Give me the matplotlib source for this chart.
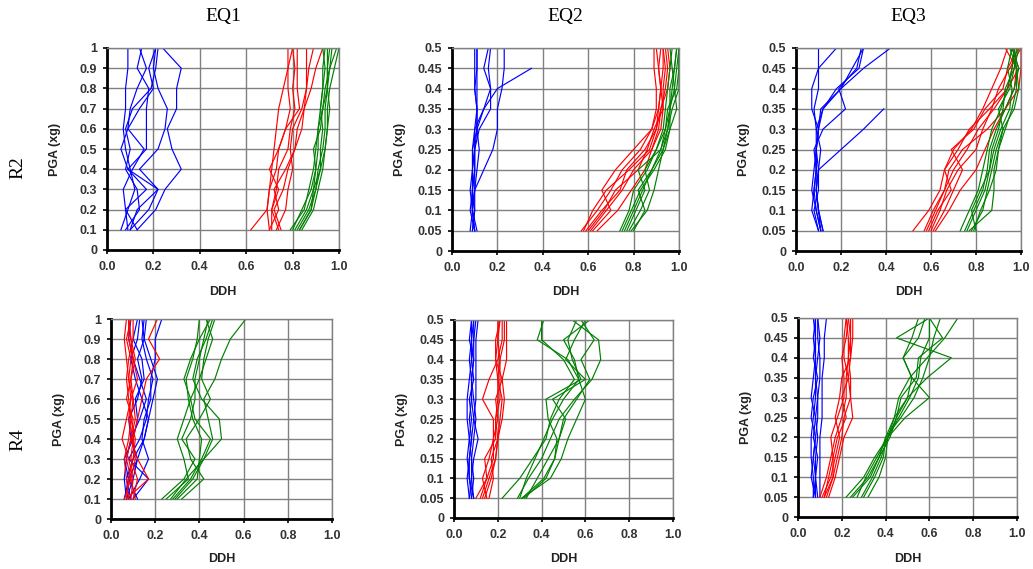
import numpy as np
import matplotlib
matplotlib.use("Agg")
import matplotlib.pyplot as plt

nan = np.nan

# PGA levels (xg) at which DDH was recorded
pga_eq1 = [0.1, 0.2, 0.3, 0.4, 0.5, 0.6, 0.7, 0.8, 0.9, 1.0]
pga_eq23 = [0.05, 0.1, 0.15, 0.2, 0.25, 0.3, 0.35, 0.4, 0.45, 0.5]

# ---- R2 / EQ1 ----
r2_eq1_blue = [
    [0.06, 0.09, 0.12, 0.10, 0.08, 0.07, 0.08, 0.08, 0.09, 0.09],
    [0.13, 0.08, 0.07, 0.11, 0.16, 0.09, 0.10, 0.13, 0.17, 0.14],
    [0.10, 0.13, 0.22, 0.09, 0.17, 0.17, 0.17, 0.18, 0.13, 0.15],
    [0.10, 0.18, 0.22, 0.14, 0.22, 0.25, 0.26, 0.22, 0.20, 0.21],
    [0.13, 0.21, 0.25, 0.32, 0.28, 0.26, 0.30, 0.30, 0.32, 0.24],
    [0.08, 0.14, 0.13, 0.08, 0.10, 0.08, 0.11, 0.19, 0.21, 0.22],
    [0.09, 0.08, 0.17, 0.09, 0.06, 0.09, 0.14, 0.20, 0.18, 0.21],
]
r2_eq1_red = [
    [0.62, 0.69, 0.70, 0.73, 0.74, 0.77, 0.79, 0.78, 0.78, 0.78],
    [0.70, 0.69, 0.70, 0.71, 0.72, 0.73, 0.74, 0.76, 0.78, 0.80],
    [0.71, 0.71, 0.74, 0.70, 0.74, 0.77, 0.83, 0.82, 0.82, 0.82],
    [0.73, 0.77, 0.78, 0.80, 0.79, 0.80, 0.84, 0.86, 0.86, 0.86],
    [0.75, 0.72, 0.76, 0.78, 0.81, 0.82, 0.85, 0.88, 0.90, 0.93],
    [0.70, 0.74, 0.72, 0.77, 0.81, 0.84, 0.85, 0.86, 0.87, 0.89],
    [0.74, 0.71, 0.73, 0.74, 0.78, 0.79, 0.81, 0.80, 0.81, 0.80],
]
r2_eq1_green = [
    [0.79, 0.85, 0.87, 0.89, 0.90, 0.91, 0.92, 0.93, 0.93, 0.94],
    [0.81, 0.86, 0.89, 0.90, 0.89, 0.92, 0.93, 0.95, 0.95, 0.96],
    [0.83, 0.88, 0.90, 0.91, 0.93, 0.94, 0.94, 0.95, 0.96, 0.99],
    [0.84, 0.89, 0.91, 0.93, 0.94, 0.95, 0.95, 0.96, 0.98, 1.00],
    [0.82, 0.87, 0.90, 0.92, 0.92, 0.93, 0.92, 0.93, 0.94, 0.93],
    [0.80, 0.84, 0.88, 0.90, 0.91, 0.91, 0.93, 0.94, 0.96, 0.97],
    [0.83, 0.88, 0.89, 0.92, 0.94, 0.95, 0.96, 0.95, 0.95, 0.95],
]

# ---- R2 / EQ2 ----
r2_eq2_blue = [
    [0.08, 0.09, 0.09, 0.10, 0.10, 0.11, 0.11, 0.11, 0.11, 0.11],
    [0.10, 0.09, 0.10, 0.11, 0.12, 0.11, 0.11, 0.10, 0.11, 0.11],
    [0.11, 0.09, 0.10, 0.14, 0.18, 0.20, 0.20, 0.22, 0.23, 0.23],
    [0.09, 0.10, 0.09, 0.10, 0.09, 0.11, 0.14, 0.17, 0.16, 0.17],
    [0.10, 0.09, 0.08, 0.09, 0.10, 0.10, 0.14, 0.20, 0.35, nan],
    [0.09, 0.10, 0.10, 0.10, 0.10, 0.12, 0.17, 0.17, 0.14, 0.16],
    [0.10, 0.08, 0.09, 0.09, 0.09, 0.10, 0.11, 0.10, 0.10, 0.10],
]
r2_eq2_red = [
    [0.57, 0.64, 0.70, 0.75, 0.83, 0.88, 0.90, 0.90, 0.89, 0.89],
    [0.58, 0.62, 0.68, 0.78, 0.87, 0.90, 0.91, 0.92, 0.91, 0.90],
    [0.60, 0.67, 0.72, 0.82, 0.86, 0.89, 0.93, 0.93, 0.94, 0.93],
    [0.61, 0.68, 0.75, 0.80, 0.88, 0.91, 0.92, 0.94, 0.95, 0.94],
    [0.62, 0.70, 0.66, 0.72, 0.80, 0.88, 0.91, 0.92, 0.93, 0.93],
    [0.64, 0.73, 0.79, 0.85, 0.88, 0.92, 0.93, 0.92, 0.91, 0.92],
    [0.59, 0.66, 0.74, 0.77, 0.85, 0.90, 0.92, 0.95, 0.96, 0.95],
]
r2_eq2_green = [
    [0.74, 0.78, 0.80, 0.86, 0.90, 0.93, 0.94, 0.95, 0.96, 0.97],
    [0.76, 0.80, 0.84, 0.88, 0.92, 0.95, 0.96, 0.98, 0.99, 1.00],
    [0.78, 0.83, 0.87, 0.85, 0.90, 0.94, 0.96, 0.97, 0.98, 0.99],
    [0.79, 0.86, 0.89, 0.91, 0.93, 0.95, 0.97, 1.00, 1.00, 1.00],
    [0.80, 0.85, 0.82, 0.88, 0.93, 0.96, 0.99, 0.98, 0.97, 0.96],
    [0.77, 0.81, 0.85, 0.82, 0.92, 0.94, 0.95, 0.99, 1.00, 1.00],
    [0.75, 0.79, 0.83, 0.89, 0.94, 0.96, 0.96, 0.96, 0.98, 0.99],
]

# ---- R2 / EQ3 ----
r2_eq3_blue = [
    [0.10, 0.07, 0.08, 0.09, 0.09, 0.09, 0.08, 0.10, 0.10, 0.10],
    [0.11, 0.09, 0.07, 0.08, 0.09, 0.10, 0.07, 0.07, 0.10, 0.18],
    [0.12, 0.10, 0.09, 0.10, 0.11, 0.09, 0.12, 0.20, 0.25, 0.30],
    [0.11, 0.09, 0.08, 0.09, 0.08, 0.12, 0.22, 0.19, 0.27, 0.29],
    [0.10, 0.08, 0.10, 0.10, 0.09, 0.10, 0.12, 0.18, 0.28, 0.30],
    [0.11, 0.10, 0.09, 0.10, 0.20, 0.30, 0.39, nan, nan, nan],
    [0.12, 0.10, 0.09, 0.09, 0.09, 0.10, 0.11, 0.20, 0.30, 0.42],
]
r2_eq3_red = [
    [0.52, 0.59, 0.64, 0.66, 0.70, 0.78, 0.83, 0.87, 0.91, 0.94],
    [0.58, 0.62, 0.66, 0.70, 0.76, 0.81, 0.88, 0.94, 0.96, 0.97],
    [0.60, 0.64, 0.67, 0.72, 0.80, 0.83, 0.87, 0.90, 0.95, 1.00],
    [0.61, 0.66, 0.70, 0.74, 0.69, 0.79, 0.84, 0.92, 0.94, 0.99],
    [0.57, 0.61, 0.66, 0.68, 0.74, 0.85, 0.93, 0.97, 0.98, 0.93],
    [0.62, 0.68, 0.73, 0.80, 0.84, 0.88, 0.93, 0.99, 1.00, 1.00],
    [0.59, 0.63, 0.69, 0.66, 0.72, 0.77, 0.86, 0.94, 0.99, 0.96],
]
r2_eq3_green = [
    [0.73, 0.77, 0.81, 0.83, 0.85, 0.87, 0.91, 0.94, 0.96, 0.97],
    [0.76, 0.80, 0.84, 0.86, 0.87, 0.90, 0.92, 0.93, 0.97, 0.98],
    [0.78, 0.83, 0.85, 0.87, 0.89, 0.92, 0.97, 0.99, 0.98, 0.95],
    [0.80, 0.78, 0.82, 0.86, 0.88, 0.91, 0.95, 0.96, 0.94, 0.96],
    [0.77, 0.87, 0.88, 0.88, 0.90, 0.93, 0.96, 0.98, 0.98, 0.97],
    [0.75, 0.79, 0.83, 0.85, 0.86, 0.89, 0.93, 0.97, 0.99, 0.96],
    [0.79, 0.82, 0.86, 0.89, 0.90, 0.92, 0.90, 0.95, 0.97, 0.99],
]

# ---- R4 / EQ1 ----
r4_eq1_blue = [
    [0.07, 0.06, 0.07, 0.09, 0.13, 0.16, 0.13, 0.10, 0.08, 0.09],
    [0.06, 0.08, 0.12, 0.15, 0.17, 0.14, 0.11, 0.09, 0.12, 0.13],
    [0.10, 0.17, 0.08, 0.13, 0.16, 0.17, 0.19, 0.16, 0.14, 0.15],
    [0.12, 0.08, 0.06, 0.10, 0.12, 0.11, 0.15, 0.14, 0.10, 0.12],
    [0.08, 0.13, 0.17, 0.14, 0.15, 0.18, 0.18, 0.20, 0.20, 0.23],
    [0.07, 0.10, 0.12, 0.09, 0.08, 0.12, 0.14, 0.12, 0.15, 0.14],
    [0.09, 0.07, 0.10, 0.15, 0.17, 0.19, 0.21, 0.18, 0.15, 0.16],
]
r4_eq1_red = [
    [0.06, 0.09, 0.11, 0.10, 0.08, 0.09, 0.08, 0.07, 0.06, 0.07],
    [0.07, 0.17, 0.12, 0.09, 0.10, 0.07, 0.09, 0.10, 0.08, 0.08],
    [0.08, 0.07, 0.06, 0.08, 0.09, 0.10, 0.08, 0.09, 0.07, 0.09],
    [0.09, 0.10, 0.08, 0.05, 0.07, 0.09, 0.12, 0.10, 0.09, 0.08],
    [0.10, 0.12, 0.09, 0.10, 0.12, 0.14, 0.16, 0.22, 0.17, 0.21],
    [0.07, 0.08, 0.10, 0.11, 0.09, 0.08, 0.07, 0.08, 0.10, 0.10],
    [0.11, 0.09, 0.07, 0.09, 0.11, 0.10, 0.09, 0.11, 0.09, 0.08],
]
r4_eq1_green = [
    [0.23, 0.33, 0.38, 0.32, 0.36, 0.38, 0.38, 0.40, 0.42, 0.44],
    [0.28, 0.36, 0.41, 0.45, 0.38, 0.36, 0.33, 0.36, 0.40, 0.45],
    [0.29, 0.37, 0.42, 0.50, 0.49, 0.41, 0.37, 0.39, 0.43, 0.46],
    [0.30, 0.39, 0.40, 0.41, 0.37, 0.35, 0.34, 0.37, 0.39, 0.40],
    [0.32, 0.42, 0.36, 0.34, 0.40, 0.45, 0.41, 0.42, 0.44, 0.47],
    [0.27, 0.34, 0.42, 0.46, 0.44, 0.42, 0.47, 0.50, 0.54, 0.61],
    [0.25, 0.35, 0.33, 0.30, 0.33, 0.36, 0.40, 0.43, 0.46, 0.43],
]

# ---- R4 / EQ2 ----
r4_eq2_blue = [
    [0.07, 0.06, 0.07, 0.08, 0.07, 0.08, 0.08, 0.07, 0.08, 0.09],
    [0.08, 0.07, 0.06, 0.07, 0.08, 0.07, 0.09, 0.08, 0.08, 0.08],
    [0.09, 0.08, 0.08, 0.09, 0.10, 0.09, 0.08, 0.09, 0.09, 0.10],
    [0.08, 0.09, 0.08, 0.07, 0.06, 0.06, 0.07, 0.08, 0.09, 0.09],
    [0.07, 0.08, 0.09, 0.11, 0.09, 0.10, 0.10, 0.10, 0.10, 0.11],
    [0.09, 0.07, 0.07, 0.08, 0.09, 0.08, 0.08, 0.09, 0.07, 0.08],
]
r4_eq2_red = [
    [0.10, 0.15, 0.14, 0.19, 0.19, 0.21, 0.21, 0.21, 0.20, 0.20],
    [0.13, 0.16, 0.19, 0.20, 0.19, 0.20, 0.20, 0.19, 0.20, 0.21],
    [0.15, 0.13, 0.16, 0.18, 0.18, 0.13, 0.16, 0.20, 0.22, 0.22],
    [0.16, 0.18, 0.17, 0.20, 0.21, 0.22, 0.20, 0.21, 0.23, 0.23],
    [0.14, 0.17, 0.19, 0.20, 0.22, 0.23, 0.22, 0.24, 0.24, 0.24],
    [0.12, 0.15, 0.18, 0.18, 0.20, 0.19, 0.22, 0.19, 0.19, 0.21],
]
r4_eq2_green = [
    [0.22, 0.30, 0.36, 0.42, 0.44, 0.48, 0.55, 0.50, 0.40, 0.40],
    [0.30, 0.33, 0.37, 0.41, 0.45, 0.50, 0.57, 0.52, 0.38, 0.41],
    [0.31, 0.41, 0.46, 0.48, 0.50, 0.56, 0.62, 0.58, 0.64, 0.58],
    [0.32, 0.42, 0.46, 0.47, 0.43, 0.42, 0.58, 0.54, 0.52, 0.56],
    [0.29, 0.34, 0.40, 0.44, 0.48, 0.55, 0.63, 0.67, 0.66, 0.54],
    [0.31, 0.44, 0.49, 0.52, 0.56, 0.60, 0.57, 0.55, 0.50, 0.62],
    [0.33, 0.38, 0.43, 0.48, 0.51, 0.45, 0.60, 0.51, 0.55, 0.60],
]

# ---- R4 / EQ3 ----
r4_eq3_blue = [
    [0.07, 0.07, 0.06, 0.06, 0.07, 0.08, 0.08, 0.08, 0.07, 0.08],
    [0.08, 0.08, 0.07, 0.08, 0.06, 0.07, 0.09, 0.07, 0.08, 0.08],
    [0.09, 0.08, 0.08, 0.09, 0.08, 0.09, 0.10, 0.10, 0.09, 0.09],
    [0.10, 0.10, 0.10, 0.10, 0.11, 0.11, 0.11, 0.12, 0.12, 0.13],
    [0.08, 0.06, 0.07, 0.08, 0.09, 0.09, 0.08, 0.09, 0.10, 0.09],
    [0.07, 0.08, 0.09, 0.07, 0.08, 0.06, 0.07, 0.08, 0.08, 0.07],
]
r4_eq3_red = [
    [0.10, 0.13, 0.15, 0.17, 0.20, 0.22, 0.22, 0.23, 0.23, 0.22],
    [0.12, 0.14, 0.16, 0.15, 0.18, 0.21, 0.21, 0.20, 0.22, 0.23],
    [0.13, 0.16, 0.18, 0.20, 0.21, 0.24, 0.24, 0.23, 0.24, 0.24],
    [0.11, 0.15, 0.17, 0.19, 0.17, 0.19, 0.20, 0.24, 0.25, 0.25],
    [0.14, 0.17, 0.19, 0.21, 0.25, 0.24, 0.23, 0.21, 0.21, 0.22],
    [0.12, 0.16, 0.16, 0.18, 0.22, 0.20, 0.23, 0.24, 0.24, 0.23],
]
r4_eq3_green = [
    [0.22, 0.30, 0.35, 0.41, 0.45, 0.50, 0.59, 0.70, 0.45, 0.60],
    [0.25, 0.33, 0.37, 0.40, 0.47, 0.53, 0.57, 0.60, 0.62, 0.65],
    [0.29, 0.34, 0.38, 0.41, 0.44, 0.50, 0.52, 0.48, 0.52, 0.55],
    [0.30, 0.35, 0.39, 0.40, 0.44, 0.46, 0.51, 0.59, 0.67, 0.73],
    [0.32, 0.37, 0.40, 0.41, 0.46, 0.51, 0.55, 0.56, 0.60, 0.60],
    [0.27, 0.31, 0.36, 0.41, 0.49, 0.60, 0.52, 0.48, 0.55, 0.58],
    [0.24, 0.32, 0.37, 0.42, 0.45, 0.47, 0.54, 0.55, 0.66, 0.60],
]

col_titles = ["EQ1", "EQ2", "EQ3"]
row_titles = ["R2", "R4"]
x_ticks = [0.0, 0.2, 0.4, 0.6, 0.8, 1.0]
y_ticks_eq1 = [0, 0.1, 0.2, 0.3, 0.4, 0.5, 0.6, 0.7, 0.8, 0.9, 1]
y_labels_eq1 = ["0", "0.1", "0.2", "0.3", "0.4", "0.5", "0.6", "0.7", "0.8", "0.9", "1"]
y_ticks_eq23 = [0, 0.05, 0.1, 0.15, 0.2, 0.25, 0.3, 0.35, 0.4, 0.45, 0.5]
y_labels_eq23 = ["0", "0.05", "0.1", "0.15", "0.2", "0.25", "0.3", "0.35", "0.4", "0.45", "0.5"]

panels = [
    [(r2_eq1_blue, r2_eq1_red, r2_eq1_green), (r2_eq2_blue, r2_eq2_red, r2_eq2_green),
     (r2_eq3_blue, r2_eq3_red, r2_eq3_green)],
    [(r4_eq1_blue, r4_eq1_red, r4_eq1_green), (r4_eq2_blue, r4_eq2_red, r4_eq2_green),
     (r4_eq3_blue, r4_eq3_red, r4_eq3_green)],
]

W, H = 1033, 569
# plot-area boxes in pixels: left, right, top, bottom
boxes = [
    [(107, 339, 48, 250), (452, 679, 48, 251), (796, 1021, 48, 251)],
    [(111, 332, 319, 519), (454, 673, 320, 518), (798, 1017, 318, 517)],
]
xlabel_y = [292, 559]
colors = ["#0000FF", "#FF0000", "#008000"]
txt = "#333333"

fig = plt.figure(figsize=(W / 100, H / 100), dpi=100)

for r in range(2):
    for c in range(3):
        l, rr, t, b = boxes[r][c]
        ax = fig.add_axes([l / W, 1 - b / H, (rr - l) / W, (b - t) / H])
        pga = pga_eq1 if c == 0 else pga_eq23
        for col, group in zip(colors, panels[r][c]):
            for curve in group:
                ax.plot(curve, pga, color=col, lw=0.85)
        ax.set_xlim(0, 1)
        ax.set_xticks(x_ticks)
        ax.set_xticklabels([f"{v:.1f}" for v in x_ticks])
        if c == 0:
            ax.set_ylim(0, 1)
            ax.set_yticks(y_ticks_eq1)
            ax.set_yticklabels(y_labels_eq1)
        else:
            ax.set_ylim(0, 0.5)
            ax.set_yticks(y_ticks_eq23)
            ax.set_yticklabels(y_labels_eq23)
        ax.grid(True, color="#808080", lw=1)
        ax.set_axisbelow(True)
        for s in ["left", "bottom"]:
            ax.spines[s].set_color("black")
            ax.spines[s].set_linewidth(2)
        for s in ["top", "right"]:
            ax.spines[s].set_color("#808080")
            ax.spines[s].set_linewidth(1)
        ax.tick_params(direction="out", length=3, width=1.2, color="black",
                       labelsize=9, labelcolor=txt, pad=4)
        ax.tick_params(axis="x", pad=5)
        for lab in ax.get_xticklabels() + ax.get_yticklabels():
            lab.set_fontfamily("Liberation Sans")
            lab.set_fontweight("bold")
        ax.set_xlabel("DDH", fontsize=9, fontweight="bold", family="Liberation Sans",
                      color="#222222", va="center")
        ax.xaxis.set_label_coords(0.5, -(xlabel_y[r] - b) / (b - t))
        ax.set_ylabel("PGA (xg)", fontsize=9, fontweight="bold", family="Liberation Sans",
                      color="#222222", va="center")
        ax.yaxis.set_label_coords(-52 / (rr - l), 0.5)

for c, title in enumerate(col_titles):
    l, rr, t, b = boxes[0][c]
    fig.text((l + rr) / 2 / W, 1 - 16 / H, title, ha="center", va="center",
             fontsize=14, family="Liberation Serif")
for r, title in enumerate(row_titles):
    fig.text(18 / W, 1 - (168 if r == 0 else 440) / H, title, ha="center", va="center",
             rotation=90, fontsize=14, family="Liberation Serif")

fig.savefig("out.png", dpi=100)
